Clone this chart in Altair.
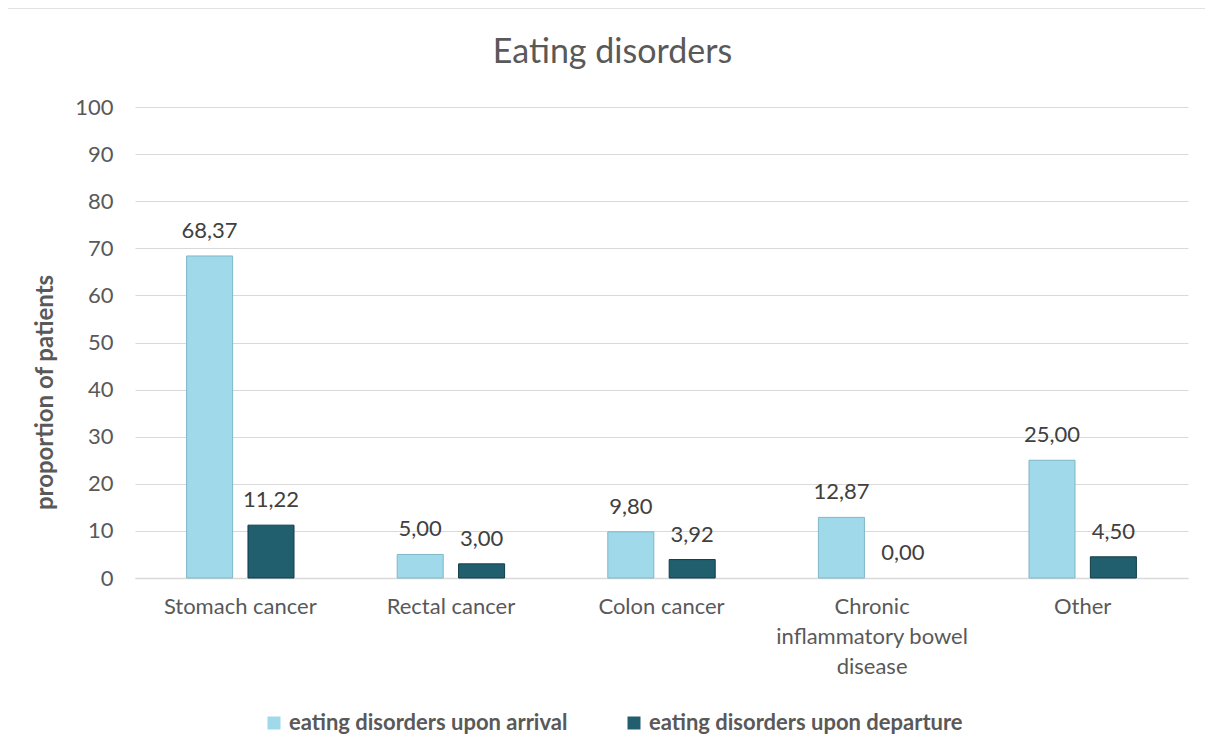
import altair as alt
import pandas as pd

categories = ["Stomach cancer", "Rectal cancer", "Colon cancer",
              "Chronic inflammatory bowel disease", "Other"]
series = ["eating disorders upon arrival", "eating disorders upon departure"]
arrival = [68.37, 5.00, 9.80, 12.87, 25.00]
departure = [11.22, 3.00, 3.92, 0.00, 4.50]
y_ticks = [0, 10, 20, 30, 40, 50, 60, 70, 80, 90, 100]

rows = []
for c, a, d in zip(categories, arrival, departure):
    rows.append({"category": c, "series": series[0], "value": a})
    rows.append({"category": c, "series": series[1], "value": d})
df = pd.DataFrame(rows)
df["label"] = df["value"].map(lambda v: f"{v:.2f}".replace(".", ","))

FONT = "Lato"
GREY = "#595959"

x_enc = alt.X("category:N", sort=categories, title=None,
              scale=alt.Scale(paddingInner=0.49, paddingOuter=0.245),
              axis=alt.Axis(labelAngle=0, labelFontSize=22, labelColor=GREY,
                            labelFont=FONT, labelPadding=18, ticks=False,
                            domainColor="#d9d9d9", domainWidth=1.5,
                            labelLineHeight=30, labelLimit=400,
                            labelExpr="datum.label == 'Chronic inflammatory bowel disease' ? ['Chronic', 'inflammatory bowel', 'disease'] : datum.label"))
xoff = alt.XOffset("series:N", sort=series,
                   scale=alt.Scale(paddingInner=0.25, paddingOuter=0))
y_enc = alt.Y("value:Q", title="proportion of patients",
              scale=alt.Scale(domain=[0, 100], nice=False),
              axis=alt.Axis(values=y_ticks, labelFontSize=22, labelColor=GREY,
                            labelFont=FONT, ticks=False, domain=False,
                            gridColor="#d9d9d9", gridWidth=1.2,
                            labelPadding=22, titleFontSize=24, titleFont=FONT,
                            titleFontWeight="bold", titleColor=GREY,
                            titleX=-90, titleY=285, titleBaseline="middle",
                            titleAngle=270))

bars = alt.Chart(df).mark_bar(strokeWidth=1).encode(
    x=x_enc, xOffset=xoff, y=y_enc,
    color=alt.Color("series:N", sort=series,
                    scale=alt.Scale(domain=series, range=["#9fd9ea", "#215e6e"]),
                    legend=alt.Legend(title=None, orient="none", direction="horizontal",
                                      legendX=128, legendY=605, padding=0,
                                      symbolType="square", symbolSize=169,
                                      symbolStrokeWidth=0, labelOffset=4,
                                      labelFontSize=22, labelFontWeight="bold",
                                      labelColor=GREY, labelFont=FONT,
                                      columnPadding=55, labelLimit=500)),
    stroke=alt.Stroke("series:N", sort=series,
                      scale=alt.Scale(domain=series, range=["#7fb7c8", "#123c48"]),
                      legend=None),
    strokeOpacity=alt.condition(alt.datum.value > 0, alt.value(1), alt.value(0)),
)

labels = alt.Chart(df).mark_text(dy=-18, fontSize=22, font=FONT, color="#404040",
                                 baseline="alphabetic").encode(
    x=alt.X("category:N", sort=categories), xOffset=xoff,
    y=alt.Y("value:Q"), text="label:N")

frame = alt.Chart(pd.DataFrame({"k": [0]})).mark_rect(
    fill=None, stroke="#d9d9d9", strokeWidth=1.5).encode(
    x=alt.value(-128), x2=alt.value(1110), y=alt.value(-99), y2=alt.value(700))

chart = alt.layer(bars, labels, frame).properties(
    width=1053, height=471,
    title=alt.TitleParams("Eating disorders", fontSize=34, font=FONT,
                          color=GREY, fontWeight="normal", anchor="middle",
                          frame="group", offset=0, dy=63, dx=-49),
    padding={"left": 127, "top": 99, "right": 17, "bottom": 167},
    autosize=alt.AutoSizeParams(type="none"),
).configure_view(stroke=None)

chart.save("out.html", embed_options={"renderer": "svg", "actions": False})
